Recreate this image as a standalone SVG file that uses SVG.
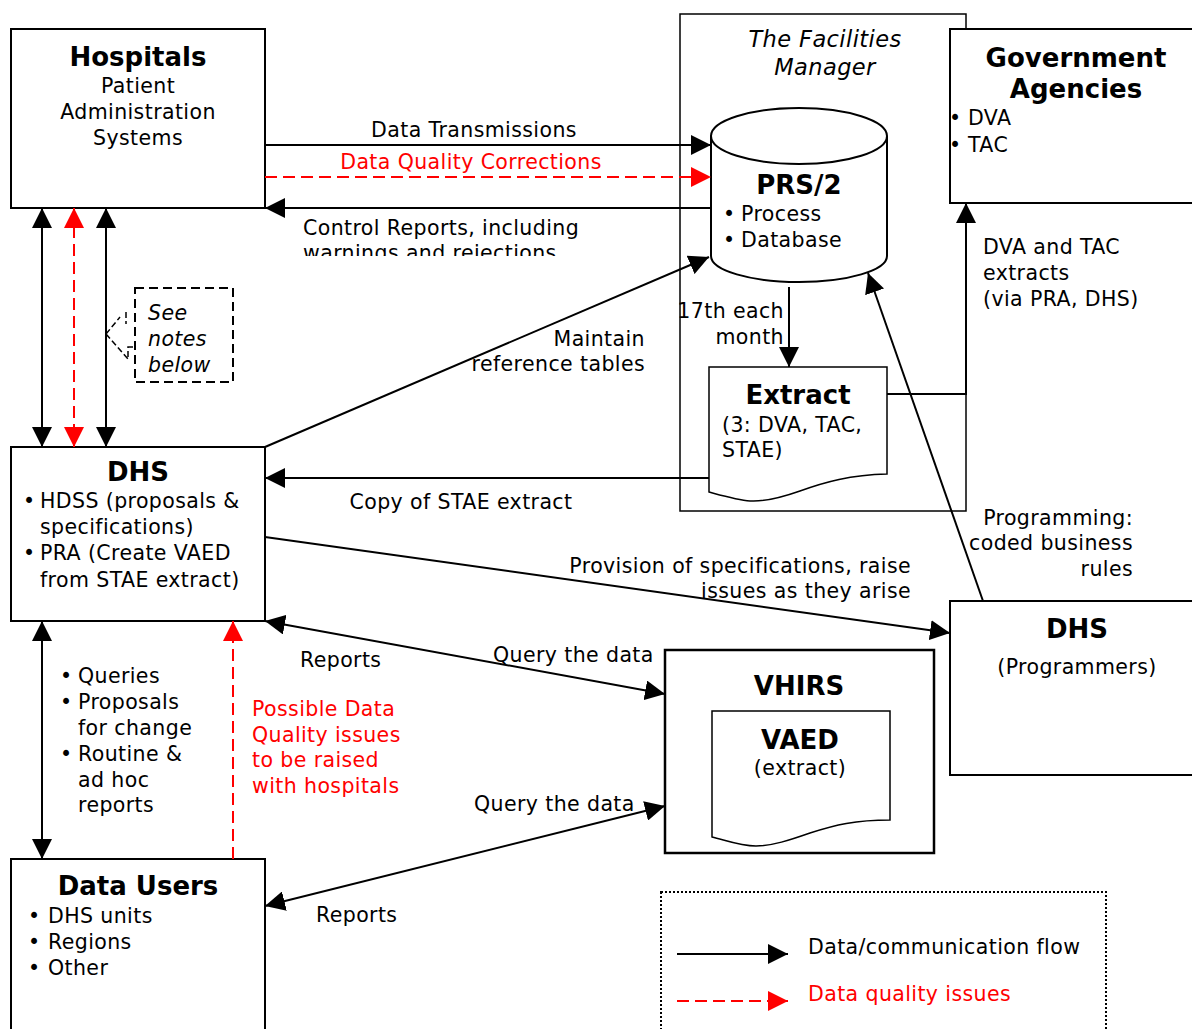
<svg xmlns="http://www.w3.org/2000/svg" width="1192" height="1029" viewBox="0 0 1192 1029">
<style>
text{font-family:"DejaVu Sans",Verdana,sans-serif;font-size:20.5px;letter-spacing:0.4px;fill:#000}
.b{font-weight:bold;font-size:26px;letter-spacing:0}
.i{font-style:italic}
.r{fill:#ff0000}
.m{text-anchor:middle}
.e{text-anchor:end}
.box{fill:#fff;stroke:#000;stroke-width:2}
.ln{fill:none;stroke:#000;stroke-width:2}
.rd{fill:none;stroke:#ff0000;stroke-width:2;stroke-dasharray:12 6}
</style>
<defs>
<marker id="ah" markerUnits="userSpaceOnUse" markerWidth="20" markerHeight="20" refX="20" refY="10" orient="auto-start-reverse"><path d="M0,0 L20,10 L0,20 Z" fill="#000"/></marker>
<marker id="ahr" markerUnits="userSpaceOnUse" markerWidth="20" markerHeight="20" refX="20" refY="10" orient="auto-start-reverse"><path d="M0,0 L20,10 L0,20 Z" fill="#ff0000"/></marker>
<clipPath id="clipCR"><rect x="290" y="212" width="320" height="44"/></clipPath>
</defs>
<rect width="1192" height="1029" fill="#fff"/>

<g id="facilities-manager">
<rect x="680" y="14" width="286" height="497" fill="#fff" stroke="#000" stroke-width="1.5"/>
<text class="i m" x="825" y="47" style="font-size:22.5px">The Facilities</text>
<text class="i m" x="825" y="75" style="font-size:22.5px">Manager</text>
</g>

<g id="hospitals">
<rect class="box" x="11" y="29" width="254" height="179"/>
<text class="b m" x="138" y="66">Hospitals</text>
<text class="m" x="138" y="93">Patient</text>
<text class="m" x="138" y="119">Administration</text>
<text class="m" x="138" y="145">Systems</text>
</g>

<g id="government-agencies">
<rect class="box" x="950" y="29" width="260" height="174"/>
<text class="b m" x="1076" y="67">Government</text>
<text class="b m" x="1076" y="98">Agencies</text>
<text x="949" y="125">•</text><text x="968" y="125">DVA</text>
<text x="949" y="152">•</text><text x="968" y="152">TAC</text>
</g>

<g id="prs2">
<path d="M711,136 V256 A88,26 0 0 0 887,256 V136" fill="#fff" stroke="#000" stroke-width="2"/>
<ellipse cx="799" cy="136" rx="88" ry="28" fill="#fff" stroke="#000" stroke-width="2"/>
<text class="b m" x="799" y="194">PRS/2</text>
<text x="723" y="221">•</text><text x="741" y="221">Process</text>
<text x="723" y="247">•</text><text x="741" y="247">Database</text>
</g>

<g id="extract">
<path d="M709,367 H887 V474 C850,475 825,482 800,491 C780,498 765,502 750,501 C738,500 724,496 709,492 Z" fill="#fff" stroke="#000" stroke-width="1.5"/>
<text class="b m" x="798" y="404">Extract</text>
<text x="722" y="432">(3: DVA, TAC,</text>
<text x="722" y="457">STAE)</text>
</g>

<g id="see-notes">
<rect x="135" y="288" width="98" height="94" fill="none" stroke="#000" stroke-width="2" stroke-dasharray="9 5"/>
<path d="M106,334 L120,317 M126,312 V324 M106,334 L128,359 M128,357 V347 H134" fill="none" stroke="#000" stroke-width="1.5" stroke-dasharray="6 3"/>
<text class="i" x="148" y="320">See</text>
<text class="i" x="148" y="346">notes</text>
<text class="i" x="148" y="372">below</text>
</g>

<g id="dhs">
<rect class="box" x="11" y="447" width="254" height="174"/>
<text class="b m" x="138" y="481">DHS</text>
<text x="23" y="508">•</text><text x="40" y="508">HDSS (proposals &amp;</text>
<text x="40" y="534">specifications)</text>
<text x="23" y="560">•</text><text x="40" y="560">PRA (Create VAED</text>
<text x="40" y="587">from STAE extract)</text>
</g>

<g id="dhs-programmers">
<rect class="box" x="950" y="601" width="260" height="174"/>
<text class="b m" x="1077" y="638">DHS</text>
<text class="m" x="1077" y="674">(Programmers)</text>
</g>

<g id="vhirs">
<rect x="665" y="650" width="269" height="203" fill="#fff" stroke="#000" stroke-width="2.5"/>
<text class="b m" x="799" y="695">VHIRS</text>
</g>

<g id="vaed">
<path d="M712,711 H890 V820 C855,820 835,825 810,833 C790,840 772,846 756,846 C740,846 725,840 712,837 Z" fill="#fff" stroke="#000" stroke-width="1.5"/>
<text class="b m" x="800" y="749">VAED</text>
<text class="m" x="800" y="775">(extract)</text>
</g>

<g id="data-users">
<rect class="box" x="11" y="859" width="254" height="190"/>
<text class="b m" x="138" y="895">Data Users</text>
<text x="28" y="923">•</text><text x="48" y="923">DHS units</text>
<text x="28" y="949">•</text><text x="48" y="949">Regions</text>
<text x="28" y="975">•</text><text x="48" y="975">Other</text>
</g>

<g id="legend">
<rect x="661" y="892" width="445" height="150" fill="none" stroke="#000" stroke-width="2" stroke-dasharray="2 2"/>
<line class="ln" x1="677" y1="954" x2="788" y2="954" marker-end="url(#ah)"/>
<text x="808" y="954">Data/communication flow</text>
<line class="rd" x1="677" y1="1001" x2="788" y2="1001" marker-end="url(#ahr)"/>
<text class="r" x="808" y="1001">Data quality issues</text>
</g>

<g id="connectors">
<line class="ln" x1="265" y1="145" x2="711" y2="145" marker-end="url(#ah)"/>
<line class="rd" x1="265" y1="177" x2="711" y2="177" marker-end="url(#ahr)"/>
<line class="ln" x1="711" y1="208" x2="265" y2="208" marker-end="url(#ah)"/>
<line class="ln" x1="42" y1="208" x2="42" y2="447" marker-start="url(#ah)" marker-end="url(#ah)"/>
<line class="rd" x1="74" y1="208" x2="74" y2="447" marker-start="url(#ahr)" marker-end="url(#ahr)"/>
<line class="ln" x1="106" y1="208" x2="106" y2="447" marker-start="url(#ah)" marker-end="url(#ah)"/>
<line class="ln" x1="265" y1="447" x2="709" y2="257" stroke-width="1.6" marker-end="url(#ah)"/>
<line class="ln" x1="789" y1="287" x2="789" y2="367" marker-end="url(#ah)"/>
<polyline class="ln" points="887,394 966,394 966,203" marker-end="url(#ah)"/>
<line class="ln" x1="709" y1="478" x2="265" y2="478" marker-end="url(#ah)"/>
<line class="ln" x1="983" y1="601" x2="868" y2="273" marker-end="url(#ah)"/>
<line class="ln" x1="265" y1="537" x2="950" y2="633" marker-end="url(#ah)"/>
<line class="ln" x1="265" y1="621" x2="665" y2="694" marker-start="url(#ah)" marker-end="url(#ah)"/>
<line class="ln" x1="42" y1="621" x2="42" y2="859" marker-start="url(#ah)" marker-end="url(#ah)"/>
<line class="rd" x1="233" y1="859" x2="233" y2="621" marker-end="url(#ahr)"/>
<line class="ln" x1="265" y1="906" x2="665" y2="806" marker-start="url(#ah)" marker-end="url(#ah)"/>
</g>

<g id="labels">
<text class="m" x="474" y="137">Data Transmissions</text>
<text class="r m" x="471" y="169">Data Quality Corrections</text>
<g clip-path="url(#clipCR)">
<text x="303" y="235">Control Reports, including</text>
<text x="303" y="260">warnings and rejections</text>
</g>
<text class="e" x="645" y="346">Maintain</text>
<text class="e" x="645" y="371">reference tables</text>
<text class="e" x="784" y="318">17th each</text>
<text class="e" x="784" y="344">month</text>
<text x="983" y="254">DVA and TAC</text>
<text x="983" y="280">extracts</text>
<text x="983" y="306">(via PRA, DHS)</text>
<text class="m" x="461" y="509">Copy of STAE extract</text>
<text class="e" x="1133" y="525">Programming:</text>
<text class="e" x="1133" y="550">coded business</text>
<text class="e" x="1133" y="576">rules</text>
<text class="e" x="911" y="573">Provision of specifications, raise</text>
<text class="e" x="911" y="598">issues as they arise</text>
<text x="300" y="667">Reports</text>
<text x="493" y="662">Query the data</text>
<text x="474" y="811">Query the data</text>
<text x="316" y="922">Reports</text>
<text x="60" y="683">•</text><text x="78" y="683">Queries</text>
<text x="60" y="709">•</text><text x="78" y="709">Proposals</text>
<text x="78" y="735">for change</text>
<text x="60" y="761">•</text><text x="78" y="761">Routine &amp;</text>
<text x="78" y="787">ad hoc</text>
<text x="78" y="812">reports</text>
<text class="r" x="252" y="716">Possible Data</text>
<text class="r" x="252" y="742">Quality issues</text>
<text class="r" x="252" y="767">to be raised</text>
<text class="r" x="252" y="793">with hospitals</text>
</g>
</svg>
